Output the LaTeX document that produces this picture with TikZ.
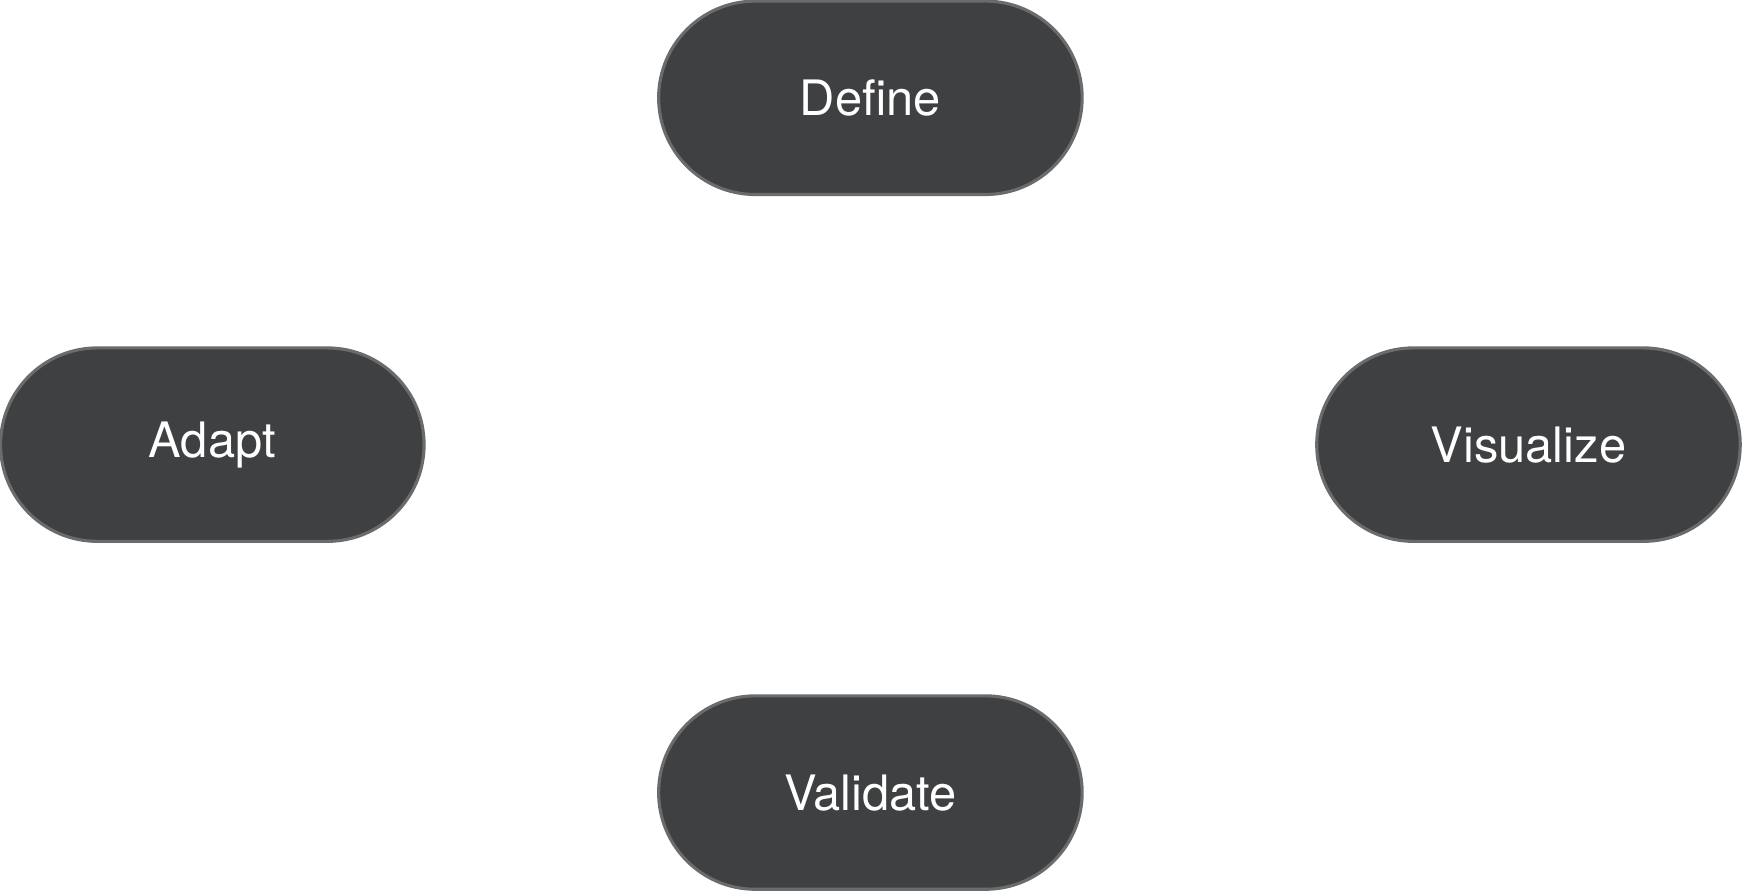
\documentclass[tikz,border=0pt]{standalone}
\usepackage{fontspec}
\setmainfont{TeX Gyre Heros}
\usepackage{tikz}
\usetikzlibrary{positioning}
\definecolor{pilldark}{HTML}{3F4042}
\definecolor{pillline}{HTML}{6A6B6D}
\begin{document}
\begin{tikzpicture}[
    pill/.style={rectangle, draw=pillline, fill=pilldark, rounded corners=0.87cm, minimum width=3.81cm, minimum height=1.74cm, font=\fontsize{12.5}{15}\selectfont, text=white, line width=0.8pt},
]
\useasboundingbox (0,0) rectangle (15.68,8.03);
% Steps
\node[pill] (define) at (7.83,7.15) {Define};
\node[pill] (adapt) at (1.91,4.03) {Adapt};
\node[pill] (visualize) at (13.75,4.03) {Visualize};
\node[pill] (validate) at (7.83,0.90) {Validate};
\end{tikzpicture}
\end{document}
